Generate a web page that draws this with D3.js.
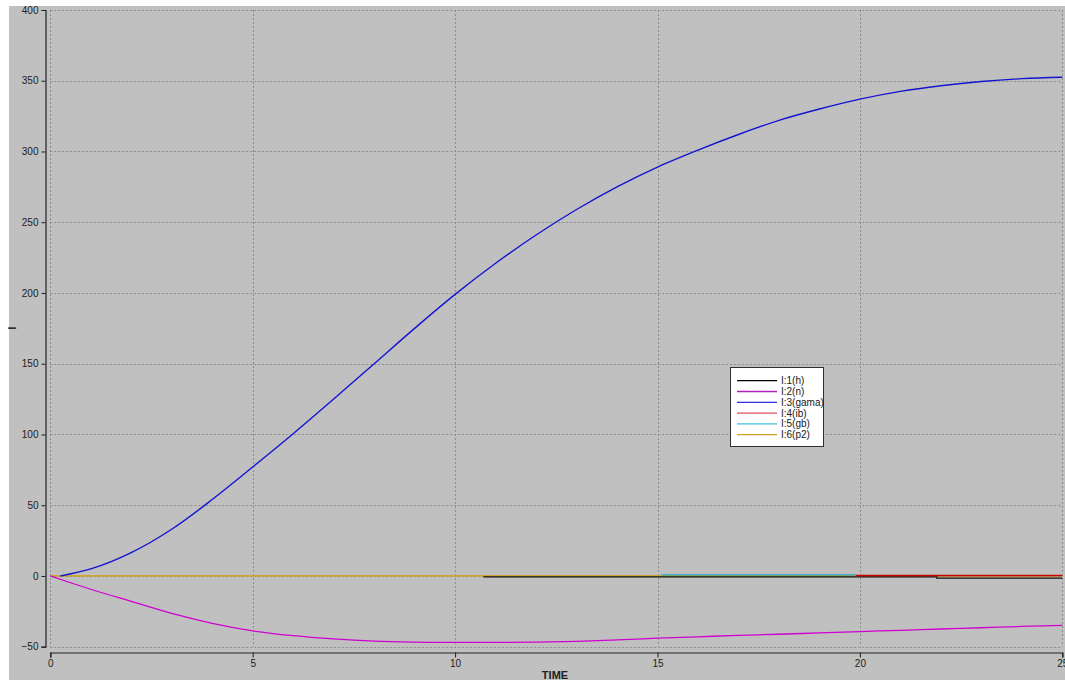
<!DOCTYPE html>
<html>
<head>
<meta charset="utf-8">
<script src="https://cdn.jsdelivr.net/npm/d3@7"></script>
<style>
  html, body { margin: 0; padding: 0; background: #ffffff; }
  svg { display: block; }
  text { font-family: "Liberation Sans Narrow", "Arial Narrow", "Liberation Sans", sans-serif; }
</style>
</head>
<body>
<svg id="chart" width="1065" height="680"></svg>
<script>
// ---- data ----
const xTicks = [0, 5, 10, 15, 20, 25];
const yTicks = [-50, 0, 50, 100, 150, 200, 250, 300, 350, 400];
const seriesNames = ["I:1(h)", "I:2(n)", "I:3(gama)", "I:4(ib)", "I:5(gb)", "I:6(p2)"];

const tGama = [0.25, 1, 2, 3, 4, 5, 6, 7, 8, 9, 10, 11, 12, 13, 14, 15, 16, 17, 18, 19, 20, 21, 22, 23, 24, 25];
const gama  = [0, 5, 16.5, 33, 54, 77, 100.5, 125, 150, 175, 199, 221, 241, 259, 275, 289, 301, 312, 322, 330, 337, 342.5, 346.5, 349.5, 351.5, 352.5];

const tN = [0, 0.5, 1, 2, 3, 4, 5, 6, 7, 8, 9, 10, 11, 12, 13, 14, 15, 16, 17, 18, 19, 20, 21, 22, 23, 24, 25];
const n  = [0, -4.8, -9.4, -18, -26.5, -33.5, -38.8, -42.2, -44.5, -46, -46.7, -47, -47, -46.8, -46.2, -45.2, -44, -43, -42, -41.2, -40.2, -39.3, -38.4, -37.5, -36.6, -35.7, -34.9];

const tH = [10.7, 21.9, 21.9, 25];
const h  = [-0.6, -0.6, -1.6, -1.6];

const tIb = [19.9, 25];
const ib  = [0.4, 0.4];

const tGb = [15.1, 19.9];
const gb  = [0.7, 0.7];

const tP2 = [0, 25];
const p2  = [0, 0];

// ---- styles ----
const plotColors = { h: "#101010", n: "#d000d0", gama: "#1414d0", ib: "#c80000", gb: "#20a8c8", p2: "#d0a000" };
const legendColors = ["#000000", "#b020c0", "#3030e0", "#e05060", "#40c0e0", "#d0a020"];

const svg = d3.select("#chart");

// background
svg.append("rect").attr("x", 0).attr("y", 0).attr("width", 1065).attr("height", 680).attr("fill", "#ffffff");
svg.append("rect").attr("x", 9).attr("y", 6).attr("width", 1056).attr("height", 674).attr("fill", "#c0c0c0");

const x = d3.scaleLinear().domain([0, 25]).range([50.3, 1062.3]);
const y = d3.scaleLinear().domain([-50, 400]).range([646.7, 10]);

// grid
const grid = svg.append("g");
grid.selectAll("line.v").data(xTicks).join("line")
  .attr("x1", d => Math.round(x(d)) + 0.5).attr("x2", d => Math.round(x(d)) + 0.5)
  .attr("y1", y(400)).attr("y2", y(-50))
  .attr("stroke", "#8c8c8c").attr("stroke-width", 1).attr("stroke-dasharray", "2,2");
grid.selectAll("line.h").data(yTicks).join("line")
  .attr("x1", x(0)).attr("x2", x(25))
  .attr("y1", d => Math.round(y(d)) + 0.5).attr("y2", d => Math.round(y(d)) + 0.5)
  .attr("stroke", "#8c8c8c").attr("stroke-width", 1).attr("stroke-dasharray", "2,2");

// left axis
const yAxis = d3.axisLeft(y).tickValues(yTicks).tickSize(4).tickPadding(3).tickFormat(d3.format("d"));
const gy = svg.append("g").attr("transform", "translate(45.5,0)").call(yAxis);
gy.select(".domain").attr("stroke", "#202020").attr("stroke-width", 1.2);
gy.selectAll(".tick line").attr("stroke", "#202020");
gy.selectAll(".tick text").attr("fill", "#202020").attr("font-size", 10)
  .style("font-family", "'Liberation Sans Narrow', 'Arial Narrow', sans-serif");

// bottom axis
const xAxis = d3.axisBottom(x).tickValues(xTicks).tickSize(5).tickPadding(2).tickFormat(d3.format("d"));
const gx = svg.append("g").attr("transform", "translate(0,652.5)").call(xAxis);
gx.select(".domain").attr("stroke", "#202020").attr("stroke-width", 1.2);
gx.selectAll(".tick line").attr("stroke", "#202020");
gx.selectAll(".tick text").attr("fill", "#202020").attr("font-size", 10)
  .style("font-family", "'Liberation Sans Narrow', 'Arial Narrow', sans-serif");

// axis titles
svg.append("text").attr("x", 555).attr("y", 679).attr("text-anchor", "middle")
  .attr("font-size", 11).attr("font-weight", "bold").attr("fill", "#202020").text("TIME");
svg.append("text").attr("transform", "translate(16,328) rotate(-90)").attr("text-anchor", "middle")
  .attr("font-size", 10).attr("font-weight", "bold").attr("fill", "#202020").text("I");

// lines
const mk = (ts, vs) => ts.map((t, i) => [t, vs[i]]);
const lineLin = d3.line().x(d => x(d[0])).y(d => y(d[1]));
const lineSmooth = d3.line().x(d => x(d[0])).y(d => y(d[1])).curve(d3.curveMonotoneX);

const plots = svg.append("g").attr("fill", "none");
plots.append("path").attr("d", lineLin(mk(tP2, p2))).attr("stroke", plotColors.p2).attr("stroke-width", 1.3);
plots.append("path").attr("d", lineLin(mk(tH, h))).attr("stroke", plotColors.h).attr("stroke-width", 1.3);
plots.append("path").attr("d", lineLin(mk(tGb, gb))).attr("stroke", plotColors.gb).attr("stroke-width", 1.3);
plots.append("path").attr("d", lineLin(mk(tIb, ib))).attr("stroke", plotColors.ib).attr("stroke-width", 1.5);
plots.append("path").attr("d", lineSmooth(mk(tN, n))).attr("stroke", plotColors.n).attr("stroke-width", 1.3);
plots.append("path").attr("d", lineSmooth(mk(tGama, gama))).attr("stroke", plotColors.gama).attr("stroke-width", 1.4);

// legend
const lg = svg.append("g").attr("transform", "translate(730.5,367.5)");
lg.append("rect").attr("width", 93).attr("height", 79).attr("fill", "#ffffff").attr("stroke", "#303030").attr("stroke-width", 1);
const items = lg.selectAll("g.item").data(seriesNames).join("g")
  .attr("transform", (d, i) => `translate(0,${13.2 + i * 10.8})`);
items.append("line").attr("x1", 6.5).attr("x2", 46.5).attr("y1", 0).attr("y2", 0)
  .attr("stroke", (d, i) => legendColors[i]).attr("stroke-width", 1.3);
items.append("text").attr("x", 50.5).attr("y", 3.5).attr("font-size", 10).attr("fill", "#202020").text(d => d);
</script>
</body>
</html>
